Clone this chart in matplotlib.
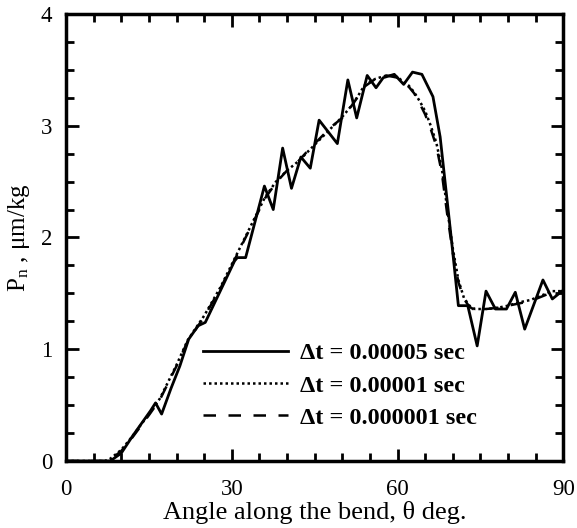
import matplotlib
matplotlib.use("Agg")
from matplotlib import pyplot as plt
from matplotlib.ticker import MultipleLocator

# Solid curve, dt = 0.00005 sec
theta_a = [0, 5, 8, 10, 12, 15.3, 16.2, 17.3, 19, 20.6, 22.2, 23.9, 25.2, 27.9,
           30.5, 31.0, 32.5, 35.9, 37.5, 39.2, 40.8, 42.5, 44.2, 45.8, 49.1,
           51.0, 52.6, 54.5, 56.1, 57.4, 59.4, 61.1, 62.7, 64.4, 66.4, 67.7,
           69.7, 71.0, 72.7, 74.4, 76.0, 77.7, 79.7, 81.3, 83.0, 86.3, 88.0, 90]
pn_a = [0, 0, 0, 0.07, 0.22, 0.45, 0.52, 0.42, 0.65, 0.85, 1.09, 1.21, 1.24, 1.52,
        1.79, 1.82, 1.82, 2.46, 2.25, 2.80, 2.44, 2.72, 2.62, 3.05, 2.84,
        3.41, 3.07, 3.45, 3.34, 3.43, 3.46, 3.37, 3.48, 3.46, 3.26, 2.90,
        2.00, 1.39, 1.39, 1.03, 1.52, 1.36, 1.36, 1.51, 1.18, 1.62, 1.45, 1.53]

# Dotted curve, dt = 0.00001 sec
theta_b = [0, 7, 8, 10, 12, 15, 17, 20, 22, 25, 28, 30, 32, 34, 36, 38, 40, 42,
           44, 46, 48, 50, 52, 54, 56, 58, 60, 61, 62, 63, 64, 65, 66, 67, 68,
           69, 70, 71, 72, 73, 74, 76, 78, 80, 82, 84, 86, 88, 90]
pn_b = [0, 0, 0.02, 0.1, 0.22, 0.42, 0.56, 0.86, 1.08, 1.3, 1.56, 1.76, 1.96,
        2.16, 2.36, 2.5, 2.6, 2.68, 2.78, 2.88, 2.98, 3.08, 3.2, 3.36, 3.42,
        3.45, 3.44, 3.39, 3.36, 3.3, 3.22, 3.13, 3.0, 2.85, 2.62, 2.25, 1.9,
        1.62, 1.46, 1.39, 1.36, 1.36, 1.37, 1.39, 1.42, 1.44, 1.48, 1.52, 1.52]

# Dashed curve, dt = 0.000001 sec
theta_c = [0, 7, 8, 10, 12, 15, 17, 20, 22, 25, 28, 30, 32, 34, 36, 38, 40, 42,
           44, 46, 48, 50, 52, 54, 56, 58, 60, 61, 62, 63, 64, 65, 66, 67, 68,
           69, 70, 71, 72, 73, 74, 76, 78, 80, 82, 84, 86, 88, 90]
pn_c = [0, 0, 0.01, 0.09, 0.21, 0.41, 0.55, 0.85, 1.07, 1.29, 1.55, 1.75, 1.95,
        2.15, 2.35, 2.49, 2.6, 2.68, 2.79, 2.89, 2.99, 3.07, 3.2, 3.35, 3.42,
        3.45, 3.43, 3.38, 3.35, 3.29, 3.2, 3.1, 2.97, 2.82, 2.58, 2.2, 1.86,
        1.6, 1.45, 1.38, 1.35, 1.36, 1.37, 1.39, 1.41, 1.43, 1.47, 1.51, 1.52]

labels = ['Δt = 0.00005 sec', 'Δt = 0.00001 sec', 'Δt = 0.000001 sec']

plt.rcParams['font.family'] = ['Liberation Serif', 'DejaVu Serif']
plt.rcParams['mathtext.fontset'] = 'custom'
plt.rcParams['mathtext.rm'] = 'Liberation Serif'
plt.rcParams['mathtext.it'] = 'Liberation Serif'

fig = plt.figure(figsize=(5.77, 5.28), dpi=100)
ax = fig.add_axes([0.1144, 0.1269, 0.862, 0.8466])

ax.plot(theta_a, pn_a, color='black', lw=2.0, label=labels[0])
ax.plot(theta_b, pn_b, color='black', lw=1.8, ls=(0, (1, 1.2)), label=labels[1])
ax.plot(theta_c, pn_c, color='black', lw=1.8, ls=(0, (5, 5)), label=labels[2])

ax.set_xlim(0, 90)
ax.set_ylim(0, 4)
ax.xaxis.set_major_locator(MultipleLocator(30))
ax.xaxis.set_minor_locator(MultipleLocator(5))
ax.yaxis.set_major_locator(MultipleLocator(1))
ax.yaxis.set_minor_locator(MultipleLocator(0.25))
ax.tick_params(which='both', direction='in', top=True, right=True,
               width=2, labelsize=16.5)
ax.tick_params(which='major', length=9)
ax.tick_params(which='minor', length=6)
ax.tick_params(axis='x', which='major', pad=13)
ax.tick_params(axis='y', which='major', pad=10)
for s in ax.spines.values():
    s.set_linewidth(2.5)

ax.set_xlabel('Angle along the bend, θ deg.', fontsize=19, labelpad=1)
ax.set_ylabel('P$_\\mathrm{n}$ , μm/kg', fontsize=18, labelpad=6)

ax.legend(loc='lower left', bbox_to_anchor=(0.25, 0.045), frameon=False,
          prop={'weight': 'bold', 'size': 17.5}, handlelength=3.5,
          handletextpad=0.5, labelspacing=0.42, borderpad=0)

fig.savefig('out.png', dpi=100)
